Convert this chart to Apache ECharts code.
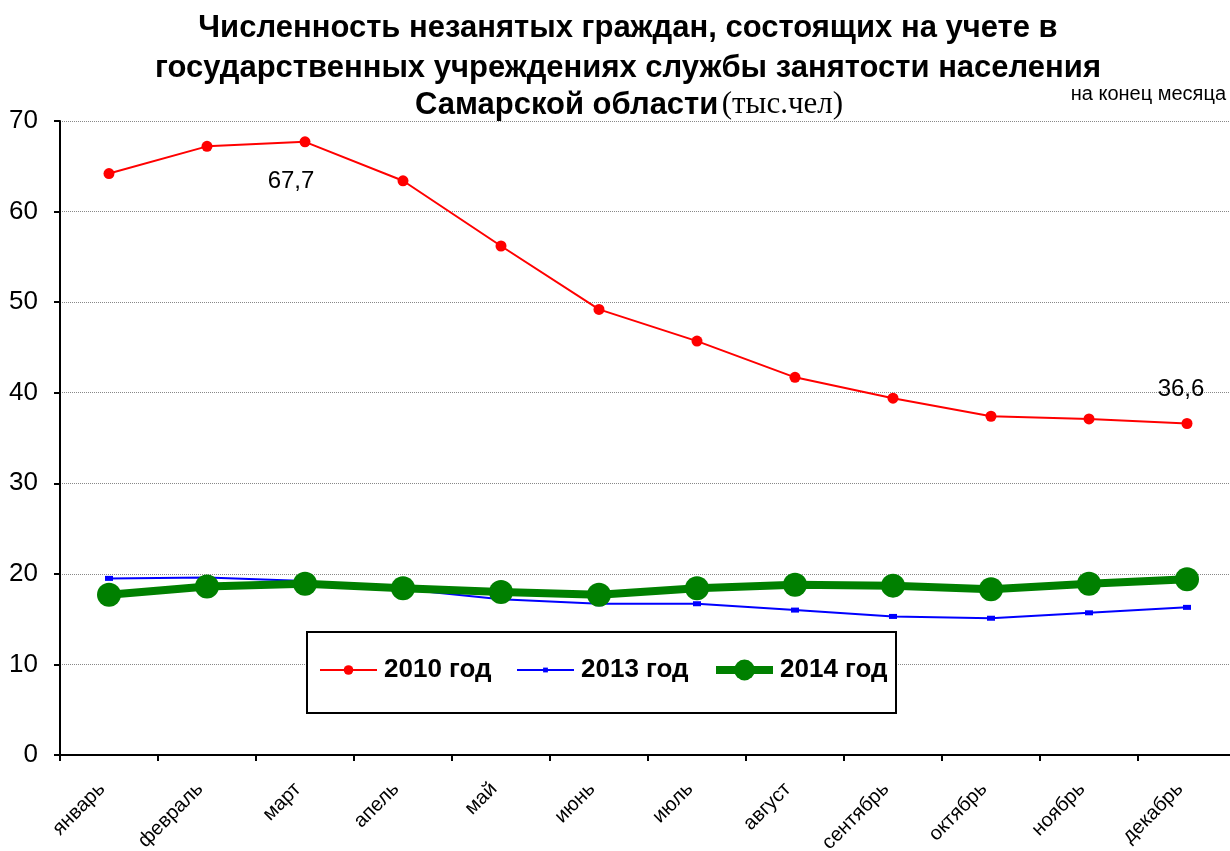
<!DOCTYPE html>
<html>
<head>
<meta charset="utf-8">
<script src="https://cdn.jsdelivr.net/npm/echarts@6/dist/echarts.min.js"></script>
<style>
  html, body { margin: 0; padding: 0; background: #fff; }
  #chart { width: 1230px; height: 851px; }
</style>
</head>
<body>
<div id="chart"></div>
<script>
// данные
const months = ['январь', 'февраль', 'март', 'апель', 'май', 'июнь', 'июль', 'август', 'сентябрь', 'октябрь', 'ноябрь', 'декабрь'];
const y2010 = [64.2, 67.2, 67.7, 63.4, 56.2, 49.2, 45.7, 41.7, 39.4, 37.4, 37.1, 36.6];
const y2013 = [19.5, 19.6, 19.2, 18.3, 17.2, 16.7, 16.7, 16.0, 15.3, 15.1, 15.7, 16.3];
const y2014 = [17.7, 18.6, 18.9, 18.4, 18.0, 17.7, 18.4, 18.8, 18.7, 18.3, 18.9, 19.4];
const seriesNames = ['2010 год', '2013 год', '2014 год'];
const labelled = [2, 11]; // подписанные точки 2010 года

const chart = echarts.init(document.getElementById('chart'));

const font = "'Liberation Sans', Arial, sans-serif";

// точки 2010 года, две с подписью
const data2010 = y2010.map(function (v, i) {
  if (labelled.indexOf(i) < 0) return v;
  return {
    value: v,
    label: {
      show: true,
      position: i === 2 ? 'bottom' : 'top',
      distance: i === 2 ? 22 : 17,
      offset: i === 2 ? [-14, 0] : [-6, 0],
      formatter: function (p) { return String(p.value).replace('.', ','); },
      fontFamily: font,
      fontSize: 24,
      color: '#000'
    }
  };
});

// легенда: по одной на серию, чтобы размер значка был свой
function legendFor(name, left, h, w) {
  return {
    left: left,
    top: 672 - 15,
    padding: 0,
    z: 10,
    itemWidth: 57,
    itemHeight: h,
    lineStyle: { width: w },
    textStyle: { fontFamily: font, fontSize: 26, fontWeight: 'bold', color: '#000', padding: [0, 0, 0, 2] },
    data: [name]
  };
}

const txt = { align: 'center', verticalAlign: 'middle', textAlign: 'center', textVerticalAlign: 'middle', fill: '#000' };

const option = {
  backgroundColor: '#ffffff',
  animation: false,
  graphic: [
    { type: 'text', x: 628, y: 28, style: Object.assign({ text: 'Численность незанятых граждан, состоящих на учете в', font: "bold 31px 'Liberation Sans', Arial" }, txt) },
    { type: 'text', x: 628, y: 68, style: Object.assign({ text: 'государственных учреждениях службы занятости населения', font: "bold 31px 'Liberation Sans', Arial" }, txt) },
    { type: 'text', x: 629, y: 105, style: Object.assign({
        text: '{b|Самарской области} {s|(тыс.чел)}',
        rich: {
          b: { fontFamily: font, fontSize: 31, fontWeight: 'bold', fill: '#000', color: '#000' },
          s: { fontFamily: "'Liberation Serif', 'Times New Roman', serif", fontSize: 31, fill: '#000', color: '#000' }
        }
      }, txt) },
    { type: 'text', right: 4, top: 84, style: { text: 'на конец месяца', font: "20px 'Liberation Sans', Arial", fill: '#000' } },
    { type: 'rect', z: 3, shape: { x: 307, y: 632, width: 589, height: 81 }, style: { fill: '#fff', stroke: '#000', lineWidth: 2 } }
  ],
  legend: [
    legendFor(seriesNames[0], 319, 12, 2),
    legendFor(seriesNames[1], 516, 6, 2),
    legendFor(seriesNames[2], 712, 26, 8)
  ],
  grid: { left: 60, top: 121, width: 1176, bottom: 96, containLabel: false, outerBoundsMode: 'none' },
  xAxis: {
    type: 'category',
    data: months,
    boundaryGap: true,
    axisLine: { lineStyle: { color: '#000', width: 2 } },
    axisTick: { show: true, length: 6, lineStyle: { color: '#000', width: 2 } },
    axisLabel: { rotate: 45, fontFamily: font, fontSize: 20, color: '#000', margin: 24, padding: [0, 10, 0, 0] }
  },
  yAxis: {
    type: 'value',
    min: 0,
    max: 70,
    interval: 10,
    axisLine: { show: true, lineStyle: { color: '#000', width: 2 } },
    axisTick: { show: true, length: 6, lineStyle: { color: '#000', width: 2 } },
    axisLabel: { fontFamily: font, fontSize: 26, color: '#000', margin: 22 },
    splitLine: { lineStyle: { color: '#888', type: 'dotted', width: 1 } }
  },
  series: [
    {
      name: seriesNames[0],
      type: 'line',
      data: data2010,
      symbol: 'circle',
      symbolSize: 11,
      lineStyle: { color: '#ff0000', width: 2 },
      itemStyle: { color: '#ff0000' },
      z: 3
    },
    {
      name: seriesNames[1],
      type: 'line',
      data: y2013,
      symbol: 'rect',
      symbolSize: [8, 5],
      lineStyle: { color: '#0000ff', width: 2 },
      itemStyle: { color: '#0000ff' },
      z: 2
    },
    {
      name: seriesNames[2],
      type: 'line',
      data: y2014,
      symbol: 'circle',
      symbolSize: 24,
      lineStyle: { color: '#008000', width: 8 },
      itemStyle: { color: '#008000' },
      z: 4
    }
  ]
};

chart.setOption(option);
</script>
</body>
</html>
